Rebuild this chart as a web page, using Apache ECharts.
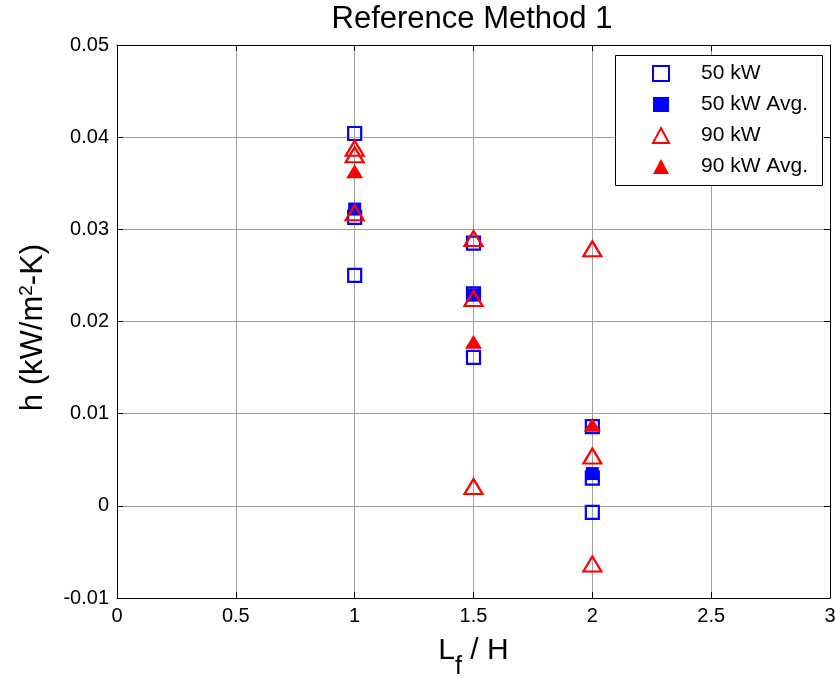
<!DOCTYPE html>
<html>
<head>
<meta charset="utf-8">
<script src="https://cdn.jsdelivr.net/npm/echarts@6/dist/echarts.min.js"></script>
<style>
  html, body { margin: 0; padding: 0; background: #fff; }
  #chart { width: 835px; height: 678px; }
</style>
</head>
<body>
<div id="chart"></div>
<script>
// Fin length ratio L_f / H for each measurement
const ratioPoints = [1, 1, 1, 1.5, 1.5, 1.5, 2, 2, 2];
const ratioAvg = [1, 1.5, 2];

// Heat transfer coefficient h (kW/m^2-K)
const h50 = [0.0404, 0.0313, 0.0250, 0.0285, 0.0230, 0.0161, 0.0086, 0.0030, -0.0007];
const h50Avg = [0.0322, 0.0229, 0.0035];
const h90 = [0.0388, 0.0381, 0.0318, 0.0290, 0.0225, 0.0021, 0.0279, 0.0054, -0.0063];
const h90Avg = [0.0363, 0.0178, 0.0088];

const seriesNames = ['50 kW', '50 kW Avg.', '90 kW', '90 kW Avg.'];

// Axis ranges and tick spacing
const xRange = [0, 3, 0.5];
const yRange = [-0.01, 0.05, 0.01];

const FONT = '"Liberation Sans", Arial, Helvetica, sans-serif';
const BLUE = '#0000ff';
const RED = '#ff0000';

function pairs(xs, ys) {
  return xs.map((x, i) => [x, ys[i]]);
}

const chart = echarts.init(document.getElementById('chart'), null, { renderer: 'canvas' });

const tickInside = { show: true, inside: true, length: 6, lineStyle: { color: '#000', width: 1 } };
const axisLineBlack = { show: true, onZero: false, lineStyle: { color: '#000', width: 1 } };
const gridLine = { show: true, lineStyle: { color: '#a0a0a0', width: 1, type: 'solid' } };

const option = {
  animation: false,
  backgroundColor: '#fff',
  title: {
    text: 'Reference Method 1',
    left: 467,
    top: -1,
    textAlign: 'center',
    textStyle: { fontFamily: FONT, fontSize: 31, fontWeight: 'normal', color: '#000' }
  },
  grid: {
    left: 117, right: 5, top: 45, bottom: 80,
    containLabel: false,
    outerBoundsMode: 'none'
  },
  xAxis: [
    {
      type: 'value',
      min: xRange[0], max: xRange[1], interval: xRange[2],
      position: 'bottom',
      axisLine: axisLineBlack,
      axisTick: tickInside,
      splitLine: gridLine,
      axisLabel: { color: '#000', fontFamily: FONT, fontSize: 20, margin: 8, showMinLabel: true, showMaxLabel: true },
      name: '{m|L}{s|f}{m| / H}',
      nameLocation: 'middle',
      nameGap: 38,
      nameMoveOverlap: false,
      nameTextStyle: {
        fontFamily: FONT, fontSize: 30, color: '#000',
        rich: {
          m: { fontFamily: FONT, fontSize: 30, color: '#000' },
          s: { fontFamily: FONT, fontSize: 25, color: '#000', lineHeight: 25, padding: [32, 0, 0, 0] }
        }
      }
    },
    {
      type: 'value',
      min: xRange[0], max: xRange[1], interval: xRange[2],
      position: 'top',
      axisLine: axisLineBlack,
      axisTick: tickInside,
      splitLine: { show: false },
      axisLabel: { show: false }
    }
  ],
  yAxis: [
    {
      type: 'value',
      min: yRange[0], max: yRange[1], interval: yRange[2],
      position: 'left',
      axisLine: axisLineBlack,
      axisTick: tickInside,
      splitLine: gridLine,
      axisLabel: {
        color: '#000', fontFamily: FONT, fontSize: 20, margin: 8,
        showMinLabel: true, showMaxLabel: true,
        formatter: v => (Math.abs(v) < 1e-12 ? '0' : v.toFixed(2))
      },
      name: '{m|h (kW/m}{p|2}{e|-K)}',
      nameLocation: 'middle',
      nameGap: 68,
      nameMoveOverlap: false,
      nameRotate: 90,
      nameTextStyle: {
        fontFamily: FONT, fontSize: 31, color: '#000',
        rich: {
          m: { fontFamily: FONT, fontSize: 31, color: '#000' },
          p: { fontFamily: FONT, fontSize: 19, color: '#000', lineHeight: 19, padding: [0, 0, 14, 0] },
          e: { fontFamily: FONT, fontSize: 31, color: '#000', padding: [0, 12, 0, 0] }
        }
      }
    },
    {
      type: 'value',
      min: yRange[0], max: yRange[1], interval: yRange[2],
      position: 'right',
      axisLine: axisLineBlack,
      axisTick: tickInside,
      splitLine: { show: false },
      axisLabel: { show: false }
    }
  ],
  legend: {
    orient: 'vertical',
    left: 615,
    top: 55,
    padding: [8, 10, 8, 37],
    itemWidth: 16,
    itemHeight: 15,
    itemGap: 10,
    z: 20,
    data: seriesNames,
    textStyle: { fontFamily: FONT, fontSize: 21, color: '#000', lineHeight: 20, padding: [0, 0, 0, 27] }
  },
  graphic: [
    {
      type: 'rect',
      z: 15,
      shape: { x: 615.5, y: 55.5, width: 207, height: 130 },
      style: { fill: '#fff', stroke: '#000', lineWidth: 1 }
    }
  ],
  series: [
    {
      name: seriesNames[0],
      type: 'scatter',
      data: pairs(ratioPoints, h50),
      symbol: 'rect',
      symbolSize: 13,
      itemStyle: { color: 'rgba(0,0,0,0)', borderColor: BLUE, borderWidth: 2.2, opacity: 1 },
      z: 3
    },
    {
      name: seriesNames[1],
      type: 'scatter',
      data: pairs(ratioAvg, h50Avg),
      symbol: 'rect',
      symbolSize: 13,
      itemStyle: { color: BLUE, opacity: 1 },
      z: 4
    },
    {
      name: seriesNames[2],
      type: 'scatter',
      data: pairs(ratioPoints, h90),
      symbol: 'triangle',
      symbolSize: [18, 15],
      symbolKeepAspect: false,
      itemStyle: { color: 'rgba(0,0,0,0)', borderColor: RED, borderWidth: 2.2, opacity: 1 },
      z: 5
    },
    {
      name: seriesNames[3],
      type: 'scatter',
      data: pairs(ratioAvg, h90Avg),
      symbol: 'triangle',
      symbolSize: [17, 14],
      symbolKeepAspect: false,
      itemStyle: { color: RED, opacity: 1 },
      z: 6
    }
  ]
};

chart.setOption(option);
</script>
</body>
</html>
